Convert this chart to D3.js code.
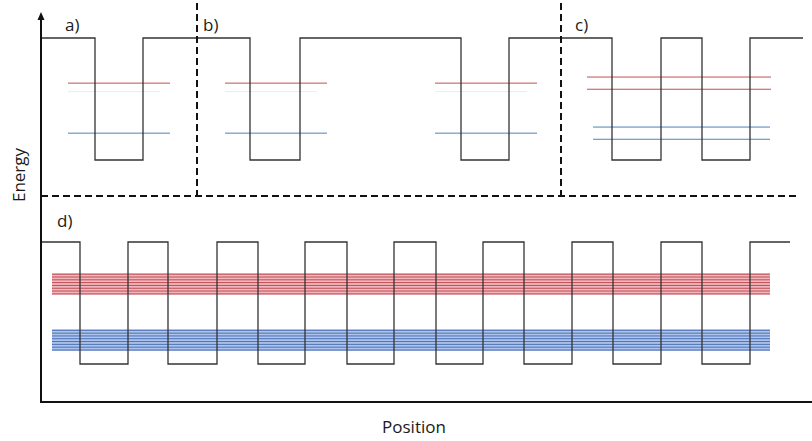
<!DOCTYPE html>
<html>
<head>
<meta charset="utf-8">
<script src="https://cdn.jsdelivr.net/npm/d3@7"></script>
<style>
  body { margin: 0; background: #fff; }
  text { font-family: "Open Sans", sans-serif; fill: #1a1a1a; }
</style>
</head>
<body>
<div id="chart"></div>
<script>
// position units (arbitrary) and energy (0 = well bottom, 1 = barrier top)
const topProfile = [[0,1],[54,0],[102,1],[209,0],[259,1],[420,0],[468,1],[571,0],[620,1],[661,0],[709,1],[762,1]];
const dWellStart = [39,127,217,306,395,483,572,661];
const dWellEnd   = [87,176,264,353,442,531,620,709];
const dProfileEnd = 749;

// single / coupled well levels: [x0, x1, energy, band]
const topLevels = [
  [27,129,0.63,"e"], [27,129,0.22,"h"],
  [184,286,0.63,"e"], [184,286,0.22,"h"],
  [394,496,0.63,"e"], [394,496,0.22,"h"],
  [546,730,0.68,"e"], [546,730,0.58,"e"],
  [552,729,0.27,"h"], [552,729,0.17,"h"]
];
const ghostLevels = [[27,119,0.56],[184,276,0.56],[394,486,0.56]];

// superlattice minibands
const bandX = [11,729];
const eBand = [0.575,0.598,0.621,0.644,0.667,0.690,0.713,0.736];
const hBand = [0.115,0.138,0.161,0.184,0.207,0.230,0.253,0.276];

const panelLabels = [["a)",24,31],["b)",162,31],["c)",534,31],["d)",16,227]];
const dividerX = [156,520];

const width = 812, height = 441;
const svg = d3.select("#chart").append("svg")
  .attr("width", width).attr("height", height);

const x = d3.scaleLinear().domain([0,771]).range([41,812]);
const yTop = d3.scaleLinear().domain([0,1]).range([160,38]);
const yBot = d3.scaleLinear().domain([0,1]).range([364,242]);

const colors = { e: "#c0504d", h: "#4f81bd" };

const step = (ys) => d3.line().x(d => x(d[0])).y(d => ys(d[1])).curve(d3.curveStepAfter);

// faint level ghosts (as in the original image)
svg.append("g").selectAll("line").data(ghostLevels).enter().append("line")
  .attr("x1", d => x(d[0])).attr("x2", d => x(d[1]))
  .attr("y1", d => yTop(d[2])).attr("y2", d => yTop(d[2]))
  .attr("stroke", "#dff0f4").attr("stroke-width", 1);

// top levels
svg.append("g").selectAll("line").data(topLevels).enter().append("line")
  .attr("x1", d => x(d[0])).attr("x2", d => x(d[1]))
  .attr("y1", d => yTop(d[2])).attr("y2", d => yTop(d[2]))
  .attr("stroke", d => colors[d[3]]).attr("stroke-width", 1);

// minibands
const bands = [[eBand, "#f2b9bc", "#c04a55"], [hBand, "#aec5ec", "#4a6fb5"]];
bands.forEach(([lv, fill, stroke]) => {
  const ext = d3.extent(lv);
  svg.append("rect")
    .attr("x", x(bandX[0])).attr("width", x(bandX[1]) - x(bandX[0]))
    .attr("y", yBot(ext[1]) - 1).attr("height", yBot(ext[0]) - yBot(ext[1]) + 2)
    .attr("fill", fill);
  svg.append("g").selectAll("line").data(lv).enter().append("line")
    .attr("x1", x(bandX[0])).attr("x2", x(bandX[1]))
    .attr("y1", d => yBot(d)).attr("y2", d => yBot(d))
    .attr("stroke", stroke).attr("stroke-width", 1);
});

// potential profiles
svg.append("path").datum(topProfile)
  .attr("d", step(yTop)).attr("fill", "none")
  .attr("stroke", "#333").attr("stroke-width", 1.3);

const dProfile = [[0,1]];
dWellStart.forEach((s, i) => { dProfile.push([s,0]); dProfile.push([dWellEnd[i],1]); });
dProfile.push([dProfileEnd,1]);
svg.append("path").datum(dProfile)
  .attr("d", step(yBot)).attr("fill", "none")
  .attr("stroke", "#333").attr("stroke-width", 1.3);

// dashed dividers
svg.append("line")
  .attr("x1", x(0)).attr("x2", 800).attr("y1", 196).attr("y2", 196)
  .attr("stroke", "#111").attr("stroke-width", 2).attr("stroke-dasharray", "7,4");
svg.selectAll(".vdiv").data(dividerX).enter().append("line")
  .attr("x1", d => x(d)).attr("x2", d => x(d)).attr("y1", 3).attr("y2", 196)
  .attr("stroke", "#111").attr("stroke-width", 2).attr("stroke-dasharray", "7,4");

// axes
svg.append("line").attr("x1", 41).attr("x2", 41).attr("y1", 18).attr("y2", 403)
  .attr("stroke", "#111").attr("stroke-width", 2);
svg.append("line").attr("x1", 40).attr("x2", 812).attr("y1", 402).attr("y2", 402)
  .attr("stroke", "#111").attr("stroke-width", 2);
svg.append("path").attr("d", "M41,12 L37.5,20 L44.5,20 Z").attr("fill", "#111");

// labels
svg.selectAll(".plab").data(panelLabels).enter().append("text")
  .attr("x", d => x(d[1])).attr("y", d => d[2])
  .style("font-size", "17px").text(d => d[0]);

svg.append("text").attr("x", 414).attr("y", 433).attr("text-anchor", "middle")
  .style("font-size", "17px").text("Position");
svg.append("text").attr("transform", "translate(25,175) rotate(-90)")
  .attr("text-anchor", "middle").style("font-size", "17px").text("Energy");
</script>
</body>
</html>
